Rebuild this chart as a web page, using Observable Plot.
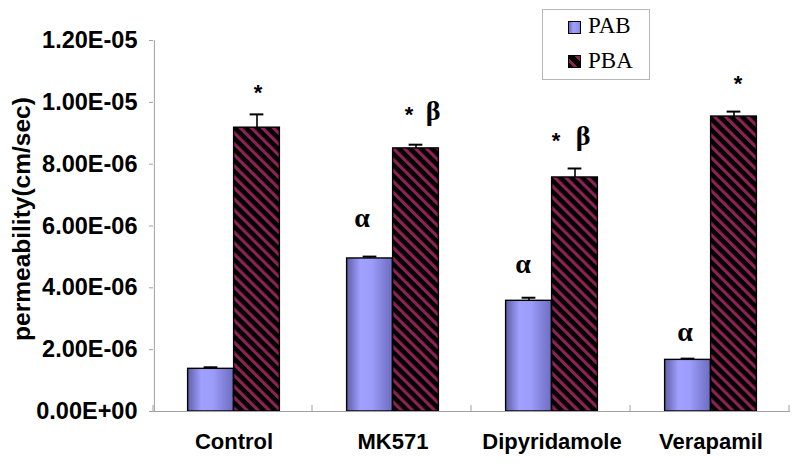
<!DOCTYPE html>
<html><head><meta charset="utf-8">
<script src="https://cdn.jsdelivr.net/npm/d3@7"></script>
<script src="https://cdn.jsdelivr.net/npm/@observablehq/plot@0.6"></script>
<style>
body{margin:0;background:#fff}
#wrap{position:relative;width:800px;height:464px}
#legend{position:absolute;left:542px;top:9px;width:106px;height:69px;border:1px solid #b8b8b8;background:#fff;font-family:"Liberation Serif",serif;font-size:23px;line-height:23px;color:#000}
#legend .sw{position:absolute;left:25px;width:11px;height:11px;border:1px solid #000}
#legend .lb{position:absolute;left:45px}
</style>
</head><body><div id="wrap"></div>
<script>
const categories = ["Control", "MK571", "Dipyridamole", "Verapamil"];
const seriesNames = ["PAB", "PBA"];
const pabMean = [1.38e-6, 4.95e-6, 3.58e-6, 1.67e-6];
const pabErr  = [0.05e-6, 0.06e-6, 0.10e-6, 0.04e-6];
const pbaMean = [9.18e-6, 8.51e-6, 7.57e-6, 9.54e-6];
const pbaErr  = [0.43e-6, 0.12e-6, 0.29e-6, 0.16e-6];
const yTicks = [0, 2e-6, 4e-6, 6e-6, 8e-6, 1e-5, 1.2e-5];
const yTickLabels = ["0.00E+00", "2.00E-06", "4.00E-06", "6.00E-06", "8.00E-06", "1.00E-05", "1.20E-05"];
const yTitle = "permeability(cm/sec)";
// significance marks: category, series, label, value-position
const noteCategory = ["Control", "MK571", "MK571", "MK571", "Dipyridamole", "Dipyridamole", "Dipyridamole", "Verapamil", "Verapamil"];
const noteSeries   = ["PBA", "PAB", "PBA", "PBA", "PAB", "PBA", "PBA", "PAB", "PBA"];
const noteLabel    = ["*", "α", "*", "β", "α", "*", "β", "α", "*"];
const noteValue    = [10.51e-6, 6.18e-6, 9.80e-6, 9.67e-6, 4.69e-6, 8.93e-6, 8.86e-6, 2.52e-6, 10.80e-6];
const noteShift    = [1, -8, -7, 17, -6, -19, 8, -3, 4];

const W = 800, H = 464, mL = 153, mR = 10, mT = 40, mB = 53;
const bw = (W - mL - mR) / categories.length;
const barW = 46;
const pbaColor = "#8e2255";

const pab = categories.map((c, i) => ({cat: c, s: "PAB", v: pabMean[i], e: pabErr[i]}));
const pba = categories.map((c, i) => ({cat: c, s: "PBA", v: pbaMean[i], e: pbaErr[i]}));
const notes = noteLabel.map((t, i) => ({cat: noteCategory[i], s: noteSeries[i], t, v: noteValue[i], sh: noteShift[i]}));
const off = s => (s === "PAB" ? -barW / 2 : barW / 2);

const capHalf = 7;
function capInsets(s) {
  const c = bw / 2 + off(s);
  return {insetLeft: c - capHalf, insetRight: bw - c - capHalf};
}

const noteMarks = notes.map(n => {
  const isStar = n.t === "*";
  return Plot.text([n], {
    x: "cat", y: "v", text: "t",
    dx: off(n.s) + n.sh, dy: isStar ? 6 : -2,
    fontSize: isStar ? 22 : 28, fontWeight: "bold",
    fontFamily: isStar ? "'Liberation Sans', Arial, sans-serif" : "'Liberation Serif', serif",
    fill: "#000"
  });
});

const plot = Plot.plot({
  width: W, height: H,
  marginLeft: mL, marginRight: mR, marginTop: mT, marginBottom: mB,
  style: {fontFamily: "'Liberation Sans', Arial, sans-serif", background: "#fff", overflow: "visible"},
  x: {domain: categories, padding: 0, label: null},
  y: {domain: [0, 1.2e-5], label: null},
  marks: [
    Plot.barY(pab, {x: "cat", y: "v", fill: "url(#pabGrad)", stroke: "#000", strokeWidth: 1.4,
      insetLeft: bw / 2 - barW, insetRight: bw / 2}),
    Plot.barY(pba, {x: "cat", y: "v", fill: "url(#pbaStripes)", stroke: "#000", strokeWidth: 1.4,
      insetLeft: bw / 2, insetRight: bw / 2 - barW}),
    Plot.ruleX(pab, {x: "cat", y1: "v", y2: d => d.v + d.e, dx: off("PAB"), stroke: "#000", strokeWidth: 1.6}),
    Plot.ruleX(pba, {x: "cat", y1: "v", y2: d => d.v + d.e, dx: off("PBA"), stroke: "#000", strokeWidth: 1.6}),
    Plot.tickY(pab, {x: "cat", y: d => d.v + d.e, stroke: "#000", strokeWidth: 2, ...capInsets("PAB")}),
    Plot.tickY(pba, {x: "cat", y: d => d.v + d.e, stroke: "#000", strokeWidth: 2, ...capInsets("PBA")}),
    Plot.ruleY([0], {stroke: "#a0a0a0", strokeWidth: 1}),
    Plot.ruleX([categories[0]], {x: d => d, dx: -bw / 2, stroke: "#a0a0a0", strokeWidth: 1}),
    Plot.axisY({ticks: yTicks, tickFormat: d => yTickLabels[yTicks.indexOf(d)], tickSize: 4, tickPadding: 12,
      stroke: "#a0a0a0", fontSize: 23.5, fontWeight: "bold", fill: "#000", label: null}),
    Plot.axisX({tickSize: 0, tickPadding: 22, fontSize: 22, fontWeight: "bold", fill: "#000", label: null,
      style: {letterSpacing: "0.4px"}}),
    Plot.text([yTitle], {frameAnchor: "left", textAnchor: "middle", rotate: -90, dx: -131, dy: -7,
      fontSize: 24.5, fontWeight: "bold", fill: "#000"}),
    ...noteMarks
  ]
});

const svg = d3.select(plot);
const defs = svg.append("defs");
const grad = defs.append("linearGradient").attr("id", "pabGrad").attr("x1", 0).attr("x2", 1).attr("y1", 0).attr("y2", 0);
[[0, "#5e5ea6"], [0.3, "#a0a0ff"], [0.55, "#9c9cfa"], [1, "#6c6cc0"]].forEach(([o, c]) =>
  grad.append("stop").attr("offset", o).attr("stop-color", c));
const pat = defs.append("pattern").attr("id", "pbaStripes").attr("patternUnits", "userSpaceOnUse")
  .attr("width", 7.8).attr("height", 7.8).attr("patternTransform", "rotate(-45)");
pat.append("rect").attr("width", 7.8).attr("height", 7.8).attr("fill", "#000");
pat.append("rect").attr("x", 0).attr("width", 3.2).attr("height", 7.8).attr("fill", pbaColor);

// inside tick marks at category boundaries on the x axis
const xs = plot.scale("x"), ys = plot.scale("y");
const y0 = ys.apply(0);
const bounds = d3.range(categories.length + 1).map(i => xs.range[0] + i * xs.step);
svg.append("g").selectAll("line").data(bounds).join("line")
  .attr("x1", d => d).attr("x2", d => d).attr("y1", y0).attr("y2", y0 - 6)
  .attr("stroke", "#a0a0a0");

const wrap = document.getElementById("wrap");
wrap.appendChild(plot);

const legend = document.createElement("div");
legend.id = "legend";
legend.innerHTML = seriesNames.map((s, i) => {
  const top = i === 0 ? 11 : 45;
  const bg = i === 0 ? "background:linear-gradient(90deg,#6c6cc0,#a0a0ff 40%,#8a8ae6)"
    : `background:repeating-linear-gradient(45deg,#000 0 3px,${pbaColor} 3px 6px,#000 6px 9px)`;
  return `<div class="sw" style="top:${top}px;${bg}"></div><div class="lb" style="top:${i === 0 ? 4 : 39}px">${s}</div>`;
}).join("");
wrap.appendChild(legend);
</script>
</body></html>
